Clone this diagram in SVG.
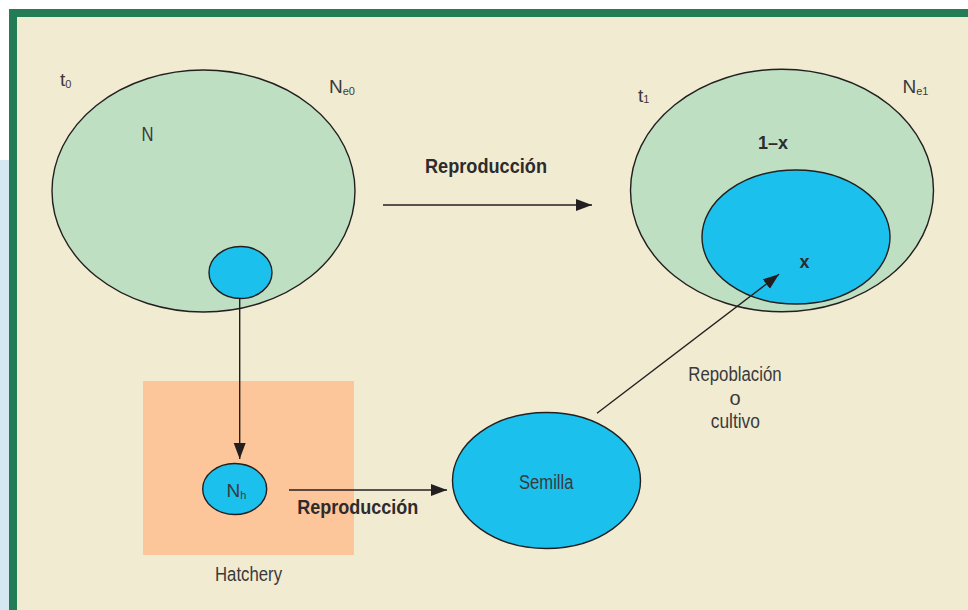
<svg xmlns="http://www.w3.org/2000/svg" width="968" height="610" viewBox="0 0 968 610">
<style>
.txt{font-family:"Liberation Sans",Arial,sans-serif;fill:#3a3a3c;}
.b{font-weight:bold;fill:#2d2b2c;}
.sub{font-size:11px;}
.green{fill:#bfdfc2;stroke:#231f20;stroke-width:1.4;}
.blue{fill:#1bc0ec;stroke:#231f20;stroke-width:1.4;}
.conn{stroke:#231f20;stroke-width:1.4;fill:none;marker-end:url(#ah);}
</style>
<defs>
<marker id="ah" markerUnits="userSpaceOnUse" markerWidth="18" markerHeight="14" refX="16" refY="6" orient="auto">
<path d="M0,0 L16,6 L0,12 Z" fill="#231f20"/>
</marker>
</defs>
<rect x="0" y="0" width="968" height="610" fill="#ffffff"/>
<rect x="0" y="160" width="9" height="450" fill="#d5e8f2"/>
<rect x="9" y="9" width="959" height="601" fill="#237c55"/>
<rect x="17" y="17" width="951" height="593" fill="#f1ebd1"/>
<rect x="143" y="381" width="211" height="174" fill="#fdc59a"/>

<g id="pop-t0">
<ellipse class="green" cx="203.5" cy="191" rx="151.5" ry="121"/>
<text class="txt" x="60" y="86" font-size="19">t<tspan class="sub" dy="2">0</tspan></text>
<text class="txt" x="329" y="93" font-size="19">N<tspan class="sub" dy="2">e0</tspan></text>
<text class="txt" x="141.5" y="141" font-size="20" textLength="12" lengthAdjust="spacingAndGlyphs">N</text>
</g>
<g id="sample">
<ellipse class="blue" cx="240.5" cy="272.5" rx="31.5" ry="26"/>
</g>
<g id="pop-t1">
<ellipse class="green" cx="782" cy="190.5" rx="151.5" ry="121.3"/>
<text class="txt" x="638" y="101.5" font-size="19">t<tspan class="sub" dy="1">1</tspan></text>
<text class="txt" x="902.5" y="92.5" font-size="19">N<tspan class="sub" dy="2">e1</tspan></text>
<text class="txt b" x="758" y="148.5" font-size="18" textLength="30" lengthAdjust="spacingAndGlyphs">1–x</text>
</g>
<g id="x-part">
<ellipse class="blue" cx="796" cy="237" rx="94" ry="67"/>
<text class="txt b" x="799.5" y="267.5" font-size="19" textLength="10" lengthAdjust="spacingAndGlyphs">x</text>
</g>
<g id="hatchery">
<text class="txt" x="215" y="580.5" font-size="20" textLength="67" lengthAdjust="spacingAndGlyphs">Hatchery</text>
</g>
<g id="nh">
<ellipse class="blue" cx="234.7" cy="489" rx="32" ry="25.5"/>
<text class="txt" x="226.5" y="496.7" font-size="19">N<tspan class="sub" dy="2">h</tspan></text>
</g>
<g id="semilla">
<ellipse class="blue" cx="546.5" cy="480.5" rx="94" ry="68"/>
<text class="txt" x="519" y="489.3" font-size="20" textLength="54.5" lengthAdjust="spacingAndGlyphs">Semilla</text>
</g>
<g id="connectors">
<line class="conn" x1="383" y1="205" x2="592" y2="205"/>
<line class="conn" x1="239.7" y1="299" x2="239.7" y2="459"/>
<line class="conn" x1="289" y1="490" x2="447" y2="490"/>
<line class="conn" x1="597" y1="413.3" x2="779" y2="274.3"/>
<text class="txt b" x="425" y="172.5" font-size="20" textLength="122" lengthAdjust="spacingAndGlyphs">Reproducción</text>
<text class="txt b" x="297.3" y="514" font-size="20" textLength="121" lengthAdjust="spacingAndGlyphs">Reproducción</text>
<text class="txt" x="688.3" y="380.7" font-size="20" textLength="93.4" lengthAdjust="spacingAndGlyphs">Repoblación</text>
<text class="txt" x="735" y="405" font-size="20" text-anchor="middle">o</text>
<text class="txt" x="710.7" y="428.3" font-size="20" textLength="49.3" lengthAdjust="spacingAndGlyphs">cultivo</text>
</g>
</svg>
